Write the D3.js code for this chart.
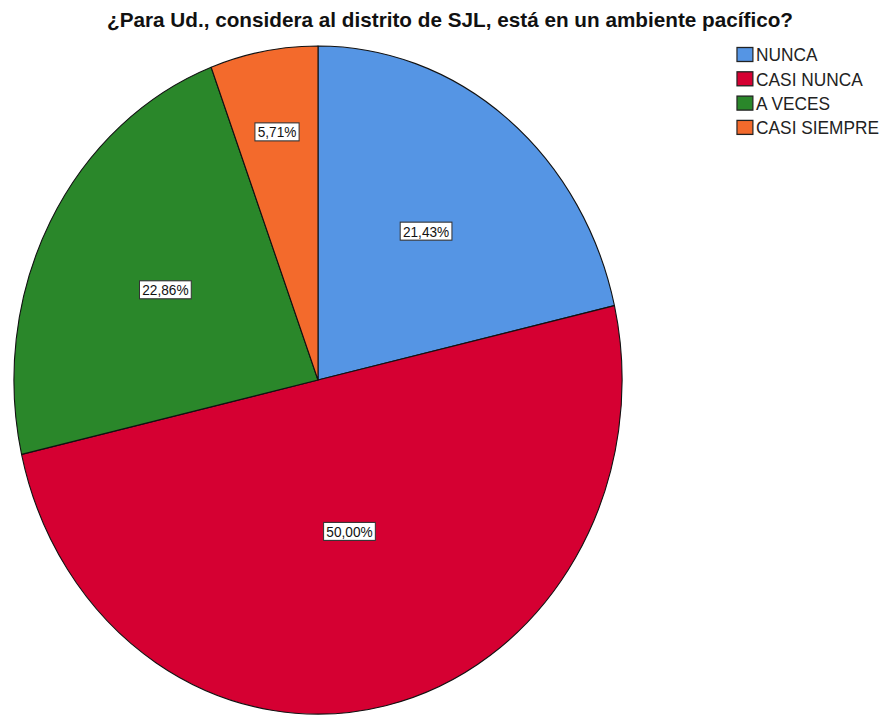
<!DOCTYPE html>
<html>
<head>
<meta charset="utf-8">
<script src="https://cdn.jsdelivr.net/npm/d3@7"></script>
<style>
  body { margin: 0; background: #fff; }
  svg { display: block; font-family: "Liberation Sans", Arial, sans-serif; }
</style>
</head>
<body>
<svg id="chart" width="883" height="715"></svg>
<script>
// respuestas (n = 70)
let categories = ["NUNCA", "CASI NUNCA", "A VECES", "CASI SIEMPRE"];
let counts = [15, 35, 16, 4];
let colors = ["#5595e4", "#d50032", "#2a872a", "#f36a2c"];
let title = "¿Para Ud., considera al distrito de SJL, está en un ambiente pacífico?";

// the original picture is squeezed horizontally, draw in a wider space and scale it
let sx = 0.9104;
let svg = d3.select("#chart");
let g = svg.append("g").attr("transform", `scale(${sx}, 1)`);

let cx = 349.3, cy = 380, r = 334;
let total = d3.sum(counts);
let data = categories.map((c, i) => ({ name: c, value: counts[i], color: colors[i] }));

let pie = d3.pie().value(d => d.value).sort(null);
let arc = d3.arc().innerRadius(0).outerRadius(r);
let arcs = pie(data);

let pie_g = g.append("g").attr("transform", `translate(${cx}, ${cy})`);

pie_g.selectAll("path")
    .data(arcs)
    .enter().append("path")
        .attr("d", arc)
        .attr("fill", d => d.data.color)
        .attr("stroke", "#111")
        .attr("stroke-width", 1.2)
        .attr("stroke-linejoin", "round");

let fmt = v => (v / total * 100).toFixed(2).replace(".", ",") + "%";

// labels sit a bit further out on thin slices, a bit closer in on the big one
let label_frac = d => {
    let p = d.data.value / total;
    if (p < 0.1) return 0.755;
    if (p >= 0.5) return 0.465;
    return 0.57;
}

let labels = pie_g.selectAll(".lbl")
    .data(arcs)
    .enter().append("g")
        .attr("class", "lbl")
        .attr("transform", d => {
            let a = (d.startAngle + d.endAngle) / 2;
            let f = label_frac(d) * r;
            return `translate(${Math.sin(a) * f}, ${-Math.cos(a) * f})`;
        });

labels.append("rect")
    .attr("fill", "#fff")
    .attr("stroke", "#333")
    .attr("stroke-width", 1.1);

labels.append("text")
    .attr("text-anchor", "middle")
    .attr("dy", "0.36em")
    .attr("font-size", "15px")
    .attr("fill", "#111")
    .text(d => fmt(d.data.value));

labels.each(function () {
    let t = d3.select(this).select("text");
    let w = t.node().getComputedTextLength();
    d3.select(this).select("rect")
        .attr("x", -w / 2 - 3)
        .attr("y", -9)
        .attr("width", w + 6)
        .attr("height", 18);
});

// title
g.append("text")
    .attr("x", 494.3)
    .attr("y", 27)
    .attr("text-anchor", "middle")
    .attr("font-size", "21px")
    .attr("font-weight", "bold")
    .attr("fill", "#111")
    .attr("textLength", 686 / sx)
    .attr("lengthAdjust", "spacingAndGlyphs")
    .text(title);

// legend
let legend = g.append("g").attr("transform", "translate(809.5, 54.5)");
let rows = legend.selectAll(".row")
    .data(data)
    .enter().append("g")
        .attr("class", "row")
        .attr("transform", (d, i) => `translate(0, ${i * 24.3})`);

rows.append("rect")
    .attr("x", 0)
    .attr("y", -7)
    .attr("width", 17.5)
    .attr("height", 14)
    .attr("fill", d => d.color)
    .attr("stroke", "#222")
    .attr("stroke-width", 1.3);

rows.append("text")
    .attr("x", 21)
    .attr("dy", "0.36em")
    .attr("font-size", "19px")
    .attr("fill", "#222")
    .text(d => d.name);
</script>
</body>
</html>
